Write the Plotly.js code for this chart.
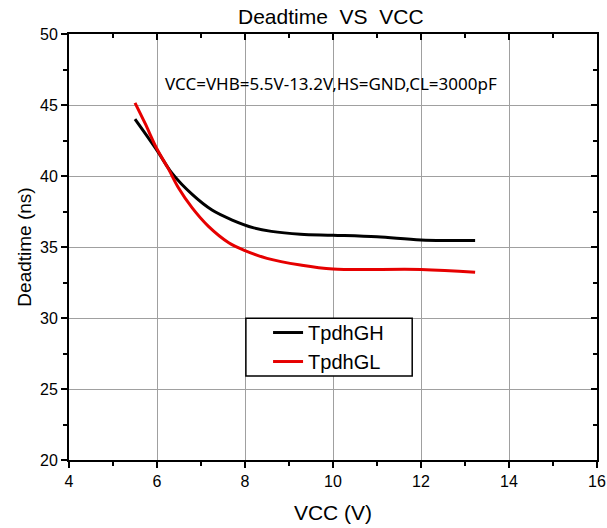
<!DOCTYPE html>
<html><head><meta charset="utf-8">
<script src="https://cdn.plot.ly/plotly-3.0.1.min.js"></script>
<style>html,body{margin:0;padding:0;background:#fff}#c{width:607px;height:528px}</style>
</head><body><div id="c"></div>
<script>
const vccGH = [5.5, 6.0, 6.34, 6.8, 7.25, 7.71, 8.2, 8.6, 9.26, 10.0, 11.0, 12.0, 13.23];
const tpdhGH = [44.0, 41.8, 40.2, 38.7, 37.6, 36.9, 36.35, 36.1, 35.9, 35.83, 35.72, 35.5, 35.45];
const vccGL = [5.5, 5.73, 6.0, 6.26, 6.49, 6.8, 7.17, 7.63, 8.0, 8.5, 9.26, 10.0, 12.0, 13.23];
const tpdhGL = [45.15, 43.7, 41.9, 40.5, 39.15, 37.75, 36.45, 35.3, 34.75, 34.2, 33.73, 33.45, 33.42, 33.22];
const xTicks = [4, 6, 8, 10, 12, 14, 16];
const yTicks = [20, 25, 30, 35, 40, 45, 50];
const seriesNames = ['TpdhGH', 'TpdhGL'];

const font = 'Liberation Sans, Arial, sans-serif';
const data = [
  {x: vccGH, y: tpdhGH, name: seriesNames[0], mode: 'lines', line: {color: '#000000', width: 3, shape: 'spline', smoothing: 1}},
  {x: vccGL, y: tpdhGL, name: seriesNames[1], mode: 'lines', line: {color: '#e60000', width: 3, shape: 'spline', smoothing: 1}},
  {x: [xTicks[0]], y: [yTicks[0]], xaxis: 'x2', yaxis: 'y2', mode: 'markers', marker: {opacity: 0}, showlegend: false, hoverinfo: 'skip'}
];
const axBase = {
  showline: true, linecolor: '#000', linewidth: 2, zeroline: false,
  tickcolor: '#000', tickwidth: 2, ticklen: 6,
  tickfont: {family: font, size: 16, color: '#000'}
};
const layout = {
  width: 607, height: 528,
  margin: {l: 69, r: 10, t: 34, b: 68},
  paper_bgcolor: '#fff', plot_bgcolor: '#fff',
  title: {text: 'Deadtime  VS  VCC', font: {family: font, size: 21, color: '#000'}, x: 0.545, xanchor: 'center', y: 0.968, yanchor: 'middle'},
  xaxis: Object.assign({}, axBase, {
    range: [4, 16], tickvals: xTicks, ticks: 'outside',
    showgrid: true, gridcolor: '#a0a0a0', gridwidth: 1,
    minor: {dtick: 1, tick0: 4, ticks: 'outside', ticklen: 4, tickcolor: '#000', showgrid: false},
    title: {text: 'VCC (V)', font: {family: font, size: 21, color: '#000'}, standoff: 16}
  }),
  yaxis: Object.assign({}, axBase, {
    range: [20, 50], tickvals: yTicks, ticks: 'outside',
    showgrid: true, gridcolor: '#a0a0a0', gridwidth: 1,
    minor: {dtick: 2.5, tick0: 20, ticks: 'outside', ticklen: 4, tickcolor: '#000', showgrid: false},
    title: {text: 'Deadtime (ns)', font: {family: font, size: 19, color: '#000'}, standoff: 3}
  }),
  xaxis2: Object.assign({}, axBase, {
    overlaying: 'x', side: 'top', anchor: 'y2', range: [4, 16], tickvals: xTicks, ticks: 'inside',
    showticklabels: false, showgrid: false,
    minor: {dtick: 1, tick0: 4, ticks: 'inside', ticklen: 4, tickcolor: '#000', showgrid: false}
  }),
  yaxis2: Object.assign({}, axBase, {
    overlaying: 'y', side: 'right', anchor: 'x2', range: [20, 50], tickvals: yTicks, ticks: 'inside',
    showticklabels: false, showgrid: false,
    minor: {dtick: 2.5, tick0: 20, ticks: 'inside', ticklen: 4, tickcolor: '#000', showgrid: false}
  }),
  shapes: [{
    type: 'rect', xref: 'paper', yref: 'paper', x0: 0.335, x1: 0.65, y0: 0.197, y1: 0.333,
    line: {color: '#000', width: 1.5}, fillcolor: '#fff', layer: 'above'
  }],
  showlegend: true,
  legend: {
    x: 0.377, y: 0.345, xanchor: 'left', yanchor: 'top',
    bgcolor: 'rgba(0,0,0,0)', borderwidth: 0,
    font: {family: font, size: 20, color: '#000'}, tracegroupgap: 0
  },
  annotations: [{
    text: 'VCC=VHB=5.5V-13.2V,HS=GND,CL=3000pF', x: 9.95, y: 46.5, xref: 'x', yref: 'y',
    showarrow: false, xanchor: 'center', yanchor: 'middle',
    font: {family: 'Noto Sans, sans-serif', size: 17, color: '#000'}
  }]
};
Plotly.newPlot('c', data, layout, {displayModeBar: false, staticPlot: true});
</script></body></html>
